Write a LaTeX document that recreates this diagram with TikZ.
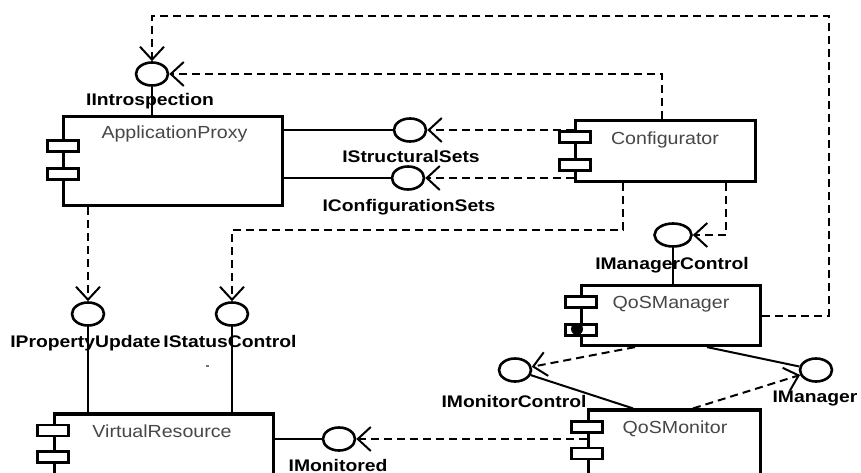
\documentclass[tikz,border=0pt]{standalone}
\usepackage{fontspec}
\newfontfamily\boxfont[FakeStretch=1.12]{Liberation Sans}
\newfontfamily\labfont[FakeStretch=1.15]{Liberation Sans}
\usetikzlibrary{shapes.geometric,arrows.meta,calc}
\begin{document}
\begin{tikzpicture}[x=1pt,y=-1pt,
  comp/.style={draw,line width=3.2pt,fill=white,rectangle,inner sep=0},
  tabbox/.style={draw,line width=2.8pt,fill=white,rectangle,inner sep=0,minimum width=31pt,minimum height=11pt},
  iface/.style={draw,ellipse,line width=2.6pt,minimum width=32pt,minimum height=23pt,inner sep=0,fill=white},
  ilabel/.style={font=\labfont\bfseries\fontsize{16.8}{18}\selectfont,inner sep=0,anchor=base},
  ctext/.style={font=\boxfont\fontsize{17.5}{19}\selectfont,text=black!72,inner sep=0,anchor=base},
  usel/.style={line width=2pt},
  dep/.style={line width=2pt,dash pattern=on 8pt off 5pt,-{Straight Barb[length=13pt,width=24pt,line width=2pt]}}
]
\useasboundingbox (0,0) rectangle (861,473);
\fill[white] (0,0) rectangle (861,473);
\begin{scope}
\clip (0,0) rectangle (861,473);
% component boxes
\node[comp,minimum width=219pt,minimum height=89pt] (ap) at (173,161) {};
\node[comp,minimum width=180pt,minimum height=61pt] (config) at (665.5,151) {};
\node[comp,minimum width=179pt,minimum height=60pt] (qm) at (671,315.5) {};
\node[comp,minimum width=219pt,minimum height=100pt] (vr) at (164,464) {};
\node[comp,minimum width=172pt,minimum height=100pt] (qmon) at (674.5,460) {};
% interfaces
\node[iface] (iintro) at (152,74) {};
\node[iface] (iss) at (410,130) {};
\node[iface] (ics) at (408,178) {};
\node[iface,minimum width=37pt] (imc) at (673,235) {};
\node[iface] (ipu) at (88,314) {};
\node[iface] (isc) at (232,314) {};
\node[iface] (imon) at (515,370) {};
\node[iface] (iman) at (816,370) {};
\node[iface] (imd) at (339,439) {};
% bend points
\coordinate (b2) at (623,230);
\coordinate (b3) at (726,235);
\coordinate (b4) at (635,0);
\coordinate (b5) at (707,0);
\coordinate (b6) at (633,0);
\coordinate (b7) at (693,0);
\coordinate (b8) at (829,16);
\coordinate (b9) at (662,74);
% solid connectors
\draw[usel] (iintro) -- (iintro |- ap.north);
\draw[usel] (ap.east |- iss) -- (iss);
\draw[usel] (ap.east |- ics) -- (ics);
\draw[usel] (imc) -- (imc |- qm.north);
\draw[usel] (ipu) -- (ipu |- vr.north);
\draw[usel] (isc) -- (isc |- vr.north);
\draw[usel] (vr.east |- imd) -- (imd);
\draw[usel] (b5 |- qm.south) -- (iman);
\draw[usel] (imon) -- (b6 |- qmon.north);
% dependencies
\draw[dep] (qm.east) -| (b8) -| (iintro);
\draw[dep] (b9 |- config.north) -- (b9) -- (iintro);
\draw[dep] (config.west |- iss) -- (iss);
\draw[dep] (config.west |- ics) -- (ics);
\draw[dep] (ipu |- ap.south) -- (ipu);
\draw[dep] (b2 |- config.south) -- (b2) -| (isc);
\draw[dep] (b3 |- config.south) -- (b3) -- (imc);
\draw[dep] (b4 |- qm.south) -- (imon);
\draw[dep] (b7 |- qmon.north) -- (iman);
\draw[dep] (qmon.west |- imd) -- (imd);
% tabs
\node[tabbox] (apt1) at (63,146) {};
\node[tabbox] (apt2) at (63,174) {};
\node[tabbox] (cft1) at (575,137) {};
\node[tabbox] (cft2) at (575,165) {};
\node[tabbox] (qmt1) at (581,302) {};
\node[tabbox] (qmt2) at (581,330) {};
\node[tabbox] (vrt1) at (53,430.5) {};
\node[tabbox] (vrt2) at (53,457) {};
\node[tabbox] (qot1) at (587,427) {};
\node[tabbox] (qot2) at (587,453.5) {};
\node[circle,fill=black,minimum size=12pt,inner sep=0] (qmdot) at (577,329) {};
\node[fill=black!55,minimum width=3pt,minimum height=2pt,inner sep=0] (speck) at (207,366) {};
% component names
\node[ctext] (apT) at (174.5,139) {ApplicationProxy};
\node[ctext] (cfT) at (665,145) {Configurator};
\node[ctext] (qmT) at (671,308) {QoSManager};
\node[ctext] (vrT) at (162,437) {VirtualResource};
\node[ctext] (qoT) at (675,433) {QoSMonitor};
% interface labels
\node[ilabel] (l1) at (150,106) {IIntrospection};
\node[ilabel] (l2) at (411,163) {IStructuralSets};
\node[ilabel] (l3) at (409,211) {IConfigurationSets};
\node[ilabel] (l4) at (672,269) {IManagerControl};
\node[ilabel] (l5) at (85.5,347) {IPropertyUpdate};
\node[ilabel] (l6) at (230,347) {IStatusControl};
\node[ilabel] (l7) at (514,407) {IMonitorControl};
\node[ilabel] (l8) at (815,402) {IManager};
\node[ilabel] (l9) at (338,471) {IMonitored};
\end{scope}
\end{tikzpicture}
\end{document}
